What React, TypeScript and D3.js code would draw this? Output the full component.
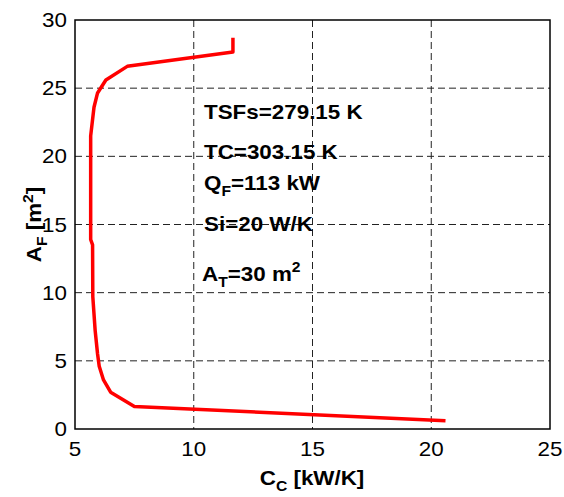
import React from "react";
import * as d3 from "d3";

const ccValues = [11.65, 11.65, 7.2, 6.3, 5.95, 5.8, 5.66, 5.66, 5.74, 5.75, 5.85, 5.95, 6.02, 6.2, 6.5, 7.5, 20.6];
const afValues = [28.7, 27.65, 26.6, 25.6, 24.65, 23.6, 21.5, 13.9, 13.5, 9.7, 7.2, 5.5, 4.6, 3.6, 2.7, 1.65, 0.6];
const xTicks = [5, 10, 15, 20, 25];
const yTicks = [0, 5, 10, 15, 20, 25, 30];

const W = 564, H = 497;
const L = 75, R = 550, T = 20, B = 429;
const SX = 1.12;
const FONT = "Liberation Sans, Arial, Helvetica, sans-serif";

function Txt({ x, y, anchor = "start", size = 20, bold = false, children, rotate = 0 }: any) {
  return (
    <text
      transform={`translate(${x},${y}) rotate(${rotate}) scale(${SX},1)`}
      textAnchor={anchor}
      fontSize={size}
      fontWeight={bold ? "bold" : "normal"}
      fontFamily={FONT}
      fill="#000"
    >
      {children}
    </text>
  );
}

export default function App() {
  const x = d3.scaleLinear().domain([5, 25]).range([L, R]);
  const y = d3.scaleLinear().domain([0, 30]).range([B, T]);
  const pts: [number, number][] = ccValues.map((c, i) => [c, afValues[i]]);
  const line = d3.line<[number, number]>().x((d) => x(d[0])).y((d) => y(d[1]));

  return (
    <svg width={W} height={H} style={{ position: "absolute", left: 0, top: 0, background: "#fff" }}>
      <rect x={0} y={0} width={W} height={H} fill="#fff" />
      {xTicks.slice(1, -1).map((t) => (
        <line key={"gx" + t} x1={x(t)} x2={x(t)} y1={T} y2={B} stroke="#222" strokeWidth={1} strokeDasharray="7,4" />
      ))}
      {yTicks.slice(1, -1).map((t) => (
        <line key={"gy" + t} x1={L} x2={R} y1={y(t)} y2={y(t)} stroke="#222" strokeWidth={1} strokeDasharray="7,4" />
      ))}
      <rect x={L} y={T} width={R - L} height={B - T} fill="none" stroke="#000" strokeWidth={1.5} />
      <path d={line(pts) || ""} fill="none" stroke="#ff0000" strokeWidth={3.5} strokeLinejoin="round" />
      {xTicks.map((t) => (
        <Txt key={"tx" + t} x={x(t)} y={456} anchor="middle">{t}</Txt>
      ))}
      {yTicks.map((t) => (
        <Txt key={"ty" + t} x={67} y={y(t) + 7} anchor="end">{t}</Txt>
      ))}
      <Txt x={312} y={485} anchor="middle" bold>
        C<tspan fontSize={14} dy={6}>C</tspan>
        <tspan dy={-6}> [kW/K]</tspan>
      </Txt>
      <Txt x={41} y={224.5} anchor="middle" bold rotate={-90}>
        A<tspan fontSize={14} dy={6}>F</tspan>
        <tspan dy={-6}> [m</tspan>
        <tspan fontSize={14} dy={-8}>2</tspan>
        <tspan dy={8}>]</tspan>
      </Txt>
      <Txt x={204} y={119} bold>TSFs=279.15 K</Txt>
      <Txt x={204} y={159} bold>TC=303.15 K</Txt>
      <Txt x={204} y={190} bold>
        Q<tspan fontSize={14} dy={6}>F</tspan>
        <tspan dy={-6}>=113 kW</tspan>
      </Txt>
      <Txt x={204} y={231} bold>Si=20 W/K</Txt>
      <Txt x={202} y={281} bold>
        A<tspan fontSize={14} dy={6}>T</tspan>
        <tspan dy={-6}>=30 m</tspan>
        <tspan fontSize={14} dy={-9}>2</tspan>
      </Txt>
    </svg>
  );
}
